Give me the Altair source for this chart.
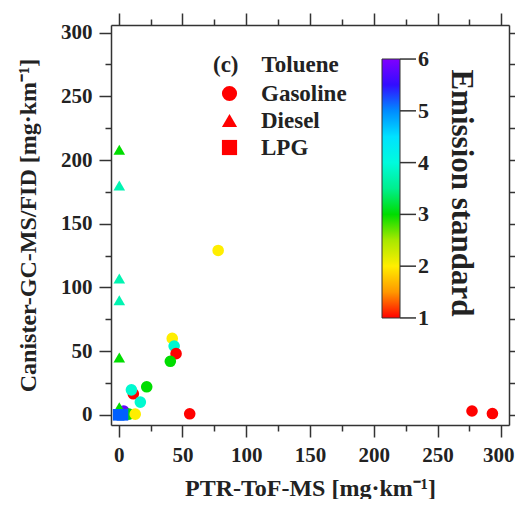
import altair as alt
import pandas as pd

# ---- data ----
fuel = ["Gasoline"] * 15 + ["Diesel"] * 6 + ["LPG"] * 2
ptr = [277, 293, 78, 42, 43.5, 45, 40.5, 22, 11.5, 10, 17, 55.7, 4, 8, 13,
       0.5, 0.5, 0.5, 0.5, 0.5, 0.5,
       0, 3]
canister = [3, 1, 129, 60, 54, 48, 42, 22, 16.5, 19.6, 10, 0.8, 3, 0.5, 0.5,
            208, 180, 107, 90, 45, 6,
            0, 0]
standard = [1, 1, 2, 2, 3.9, 1, 3, 3, 1, 3.9, 3.9, 1, 5.8, 3, 2,
            3, 3.7, 3.7, 3.7, 3, 3,
            5.2, 5.2]

fuel_types = ["Gasoline", "Diesel", "LPG"]
fuel_shapes = ["circle", "triangle-up", "square"]
cmap_stops = [0.999, 2, 3, 4.3, 5.4, 6.001]
cmap_colors = ["#ff0000", "#ffee00", "#00dd00", "#00ffff", "#0010ff", "#8000ff"]
std_ticks = [1, 2, 3, 4, 5, 6]
axis_ticks = list(range(0, 301, 25))
colorbar_title = ["Emission standard"]

df = pd.DataFrame({"fuel": fuel, "ptr": ptr, "canister": canister, "std": standard})

FONT = "Liberation Serif"
INK = "#333333"
TXT = "#222222"
major = "datum.value % 50 === 0"

# colour-bar placement (plot-area pixels)
CB_X, CB_Y, CB_LEN, CB_W = 271, 34, 259, 18


def make_axis(orient, show, title=None, title_pad=None, nudge_last=False):
    kw = dict(
        orient=orient,
        values=axis_ticks,
        labels=show,
        labelExpr=f"{major} ? datum.label : ''",
        tickSize={"condition": {"test": major, "value": 12}, "value": 6},
        tickColor=INK,
        tickWidth=1.5,
        domainColor=INK,
        domainWidth=1.5,
        grid=False,
        labelFont=FONT,
        labelFontWeight="bold",
        labelFontSize=21,
        labelColor=TXT,
        labelPadding=7,
        titleFont=FONT,
        titleFontWeight="bold",
        titleFontSize=24,
        titleColor=TXT,
        title=title,
    )
    if title_pad is not None:
        kw["titlePadding"] = title_pad
    if nudge_last:
        kw["labelOffset"] = {"condition": {"test": "datum.value === 300", "value": -3},
                             "value": 0}
    return alt.Axis(**kw)


xscale = alt.Scale(domain=[-6, 306], nice=False, zero=False)
yscale = alt.Scale(domain=[-8, 306], nice=False, zero=False)

points = alt.Chart(df).mark_point(filled=True, opacity=1, size=135).encode(
    x=alt.X("ptr:Q", scale=xscale,
            axis=make_axis("bottom", True, "PTR-ToF-MS [mg·km⁻¹]", 11, True)),
    y=alt.Y("canister:Q", scale=yscale,
            axis=make_axis("left", True, "Canister-GC-MS/FID [mg·km⁻¹]", 20)),
    color=alt.Color(
        "std:Q",
        scale=alt.Scale(domain=cmap_stops, range=cmap_colors),
        legend=alt.Legend(
            orient="none",
            legendX=CB_X,
            legendY=CB_Y,
            title=None,
            direction="vertical",
            gradientLength=CB_LEN,
            gradientThickness=CB_W,
            gradientStrokeColor=INK,
            gradientStrokeWidth=1,
            values=std_ticks,
            labelOffset=18,
            labelFont=FONT,
            labelFontWeight="bold",
            labelFontSize=22,
            labelColor=TXT,
            padding=0,
        ),
    ),
    shape=alt.Shape(
        "fuel:N",
        scale=alt.Scale(domain=fuel_types, range=fuel_shapes),
        legend=alt.Legend(
            orient="none",
            legendX=102,
            legendY=29,
            title="(c)\u2003Toluene",
            titleFont=FONT,
            titleFontWeight="bold",
            titleFontSize=23,
            titleColor=TXT,
            titlePadding=5,
            symbolFillColor="#ff0000",
            symbolStrokeColor="#ff0000",
            symbolStrokeWidth=0,
            symbolSize=230,
            symbolOffset=5,
            labelOffset=20,
            labelFont=FONT,
            labelFontWeight="bold",
            labelFontSize=23,
            labelColor=TXT,
            rowPadding=3,
            padding=0,
        ),
    ),
    order=alt.Order("idx:Q"),
).transform_window(idx="row_number()")

mirror = alt.Chart(df).mark_point(opacity=0).encode(
    x=alt.X("ptr:Q", scale=xscale, axis=make_axis("top", False)),
    y=alt.Y("canister:Q", scale=yscale, axis=make_axis("right", False)),
)

cb_ticks = alt.Chart(pd.DataFrame({"s": std_ticks})).mark_rule(
    color=INK, strokeWidth=1.5
).encode(
    y=alt.Y("s:Q",
            scale=alt.Scale(domain=[cmap_stops[0], cmap_stops[-1]],
                            range=[CB_Y + CB_LEN, CB_Y]),
            axis=None),
    x=alt.value(CB_X + CB_W),
    x2=alt.value(CB_X + CB_W + 16),
)

cb_title = alt.Chart(pd.DataFrame({"t": colorbar_title})).mark_text(
    angle=90, font=FONT, fontWeight="bold", fontSize=31, color=TXT,
    align="center", baseline="middle",
).encode(
    x=alt.value(350),
    y=alt.value(168),
    text="t:N",
)

chart = alt.layer(points, mirror, cb_ticks, cb_title).resolve_axis(
    x="independent", y="independent"
).resolve_scale(y="independent").properties(
    width=398,
    height=400,
    autosize="none",
    padding={"left": 103, "top": 17, "right": 6, "bottom": 74},
).configure_view(stroke=None).configure(background="white")

chart.save("out.html", embed_options={"renderer": "svg", "actions": False})
